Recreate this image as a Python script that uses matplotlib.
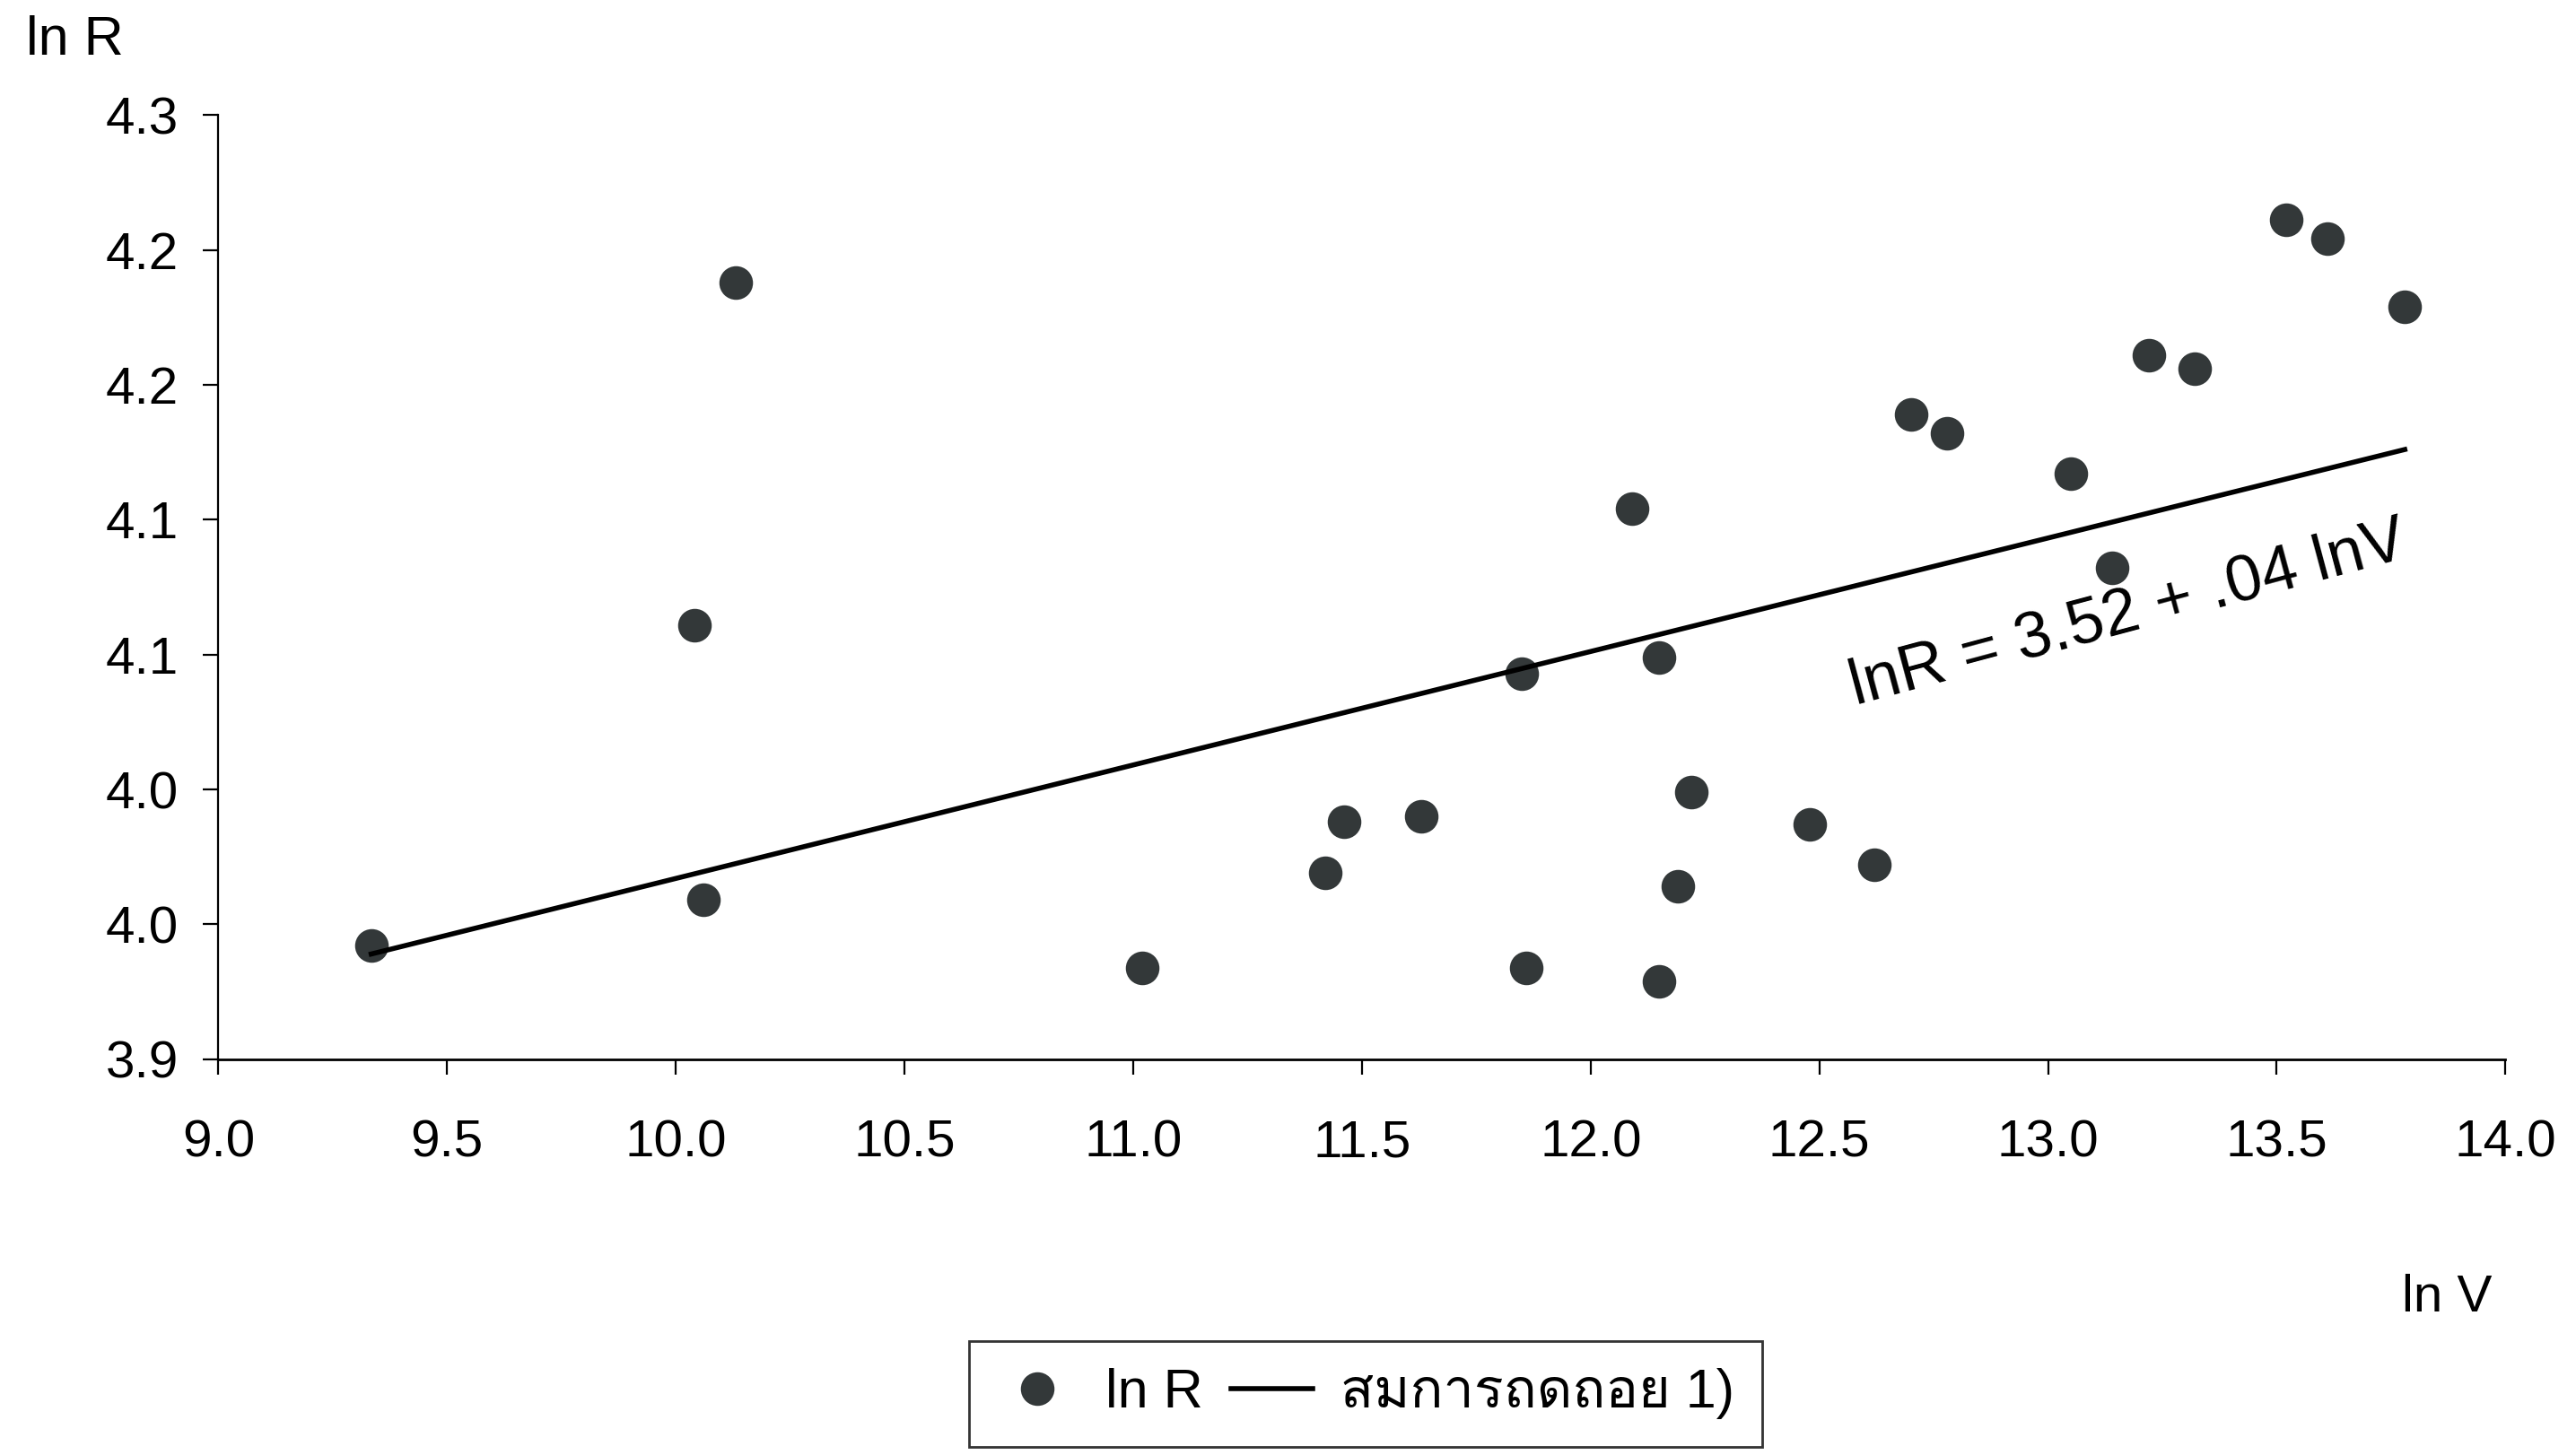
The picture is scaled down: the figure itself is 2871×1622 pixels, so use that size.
import numpy as np
import matplotlib
matplotlib.use('Agg')
from matplotlib import pyplot as plt
from matplotlib import font_manager
from matplotlib.ft2font import FT2Font

# ข้อมูลจากภาพ
lnV = [9.334, 10.13, 10.04, 10.06, 11.02, 11.42, 11.46, 11.63, 11.85, 11.86,
       12.09, 12.15, 12.22, 12.19, 12.15, 12.48, 12.62, 12.70, 12.78, 13.05,
       13.14, 13.22, 13.32, 13.52, 13.61, 13.78]
lnR = [3.942, 4.188, 4.061, 3.959, 3.934, 3.969, 3.988, 3.990, 4.043, 3.934,
       4.104, 4.049, 3.999, 3.964, 3.929, 3.987, 3.972, 4.139, 4.132, 4.117,
       4.082, 4.161, 4.156, 4.211, 4.204, 4.179]

# เส้นสมการถดถอย (ปลายเส้นอ่านจากภาพ)
fit_x = [9.334, 13.78]
fit_y = [3.939, 4.126]

x_ticks = [9.0, 9.5, 10.0, 10.5, 11.0, 11.5, 12.0, 12.5, 13.0, 13.5, 14.0]
y_ticks = [3.90, 3.95, 4.00, 4.05, 4.10, 4.15, 4.20, 4.25]
y_labels = ['3.9', '4.0', '4.0', '4.1', '4.1', '4.2', '4.2', '4.3']

# หาฟอนต์ที่มีอักษรไทย
thai_font = None
for f in font_manager.fontManager.ttflist:
    try:
        if FT2Font(f.fname).get_char_index(ord('ส')):
            thai_font = f.name
            break
    except Exception:
        pass

fam = ['Liberation Sans', 'DejaVu Sans']
if thai_font:
    fam = ['Liberation Sans', thai_font, 'DejaVu Sans']
plt.rcParams['font.family'] = fam

fig = plt.figure(figsize=(14.355, 8.11), dpi=200)
ax = fig.add_axes([0.0848, 0.272, 0.8878, 0.649])

ax.plot(lnV, lnR, linestyle='none', marker='o', markersize=12.5,
        color='#333839', label='ln R')
ax.plot(fit_x, fit_y, color='black', linewidth=2.0, label='สมการถดถอย 1)')

ax.set_xlim(9.0, 14.0)
ax.set_ylim(3.90, 4.25)
ax.set_xticks(x_ticks)
ax.set_xticklabels(['%.1f' % v for v in x_ticks])
ax.set_yticks(y_ticks)
ax.set_yticklabels(y_labels)
ax.tick_params(labelsize=21, length=6, width=0.8, direction='out', pad=10)
ax.tick_params(axis='x', pad=18)

ax.spines['top'].set_visible(False)
ax.spines['right'].set_visible(False)
ax.spines['left'].set_linewidth(0.8)
ax.spines['bottom'].set_linewidth(1.0)

fig.text(0.01, 0.972, 'ln R', fontsize=22, va='center', ha='left')
fig.text(0.95, 0.108, 'ln V', fontsize=21, va='center', ha='center')
fig.text(0.826, 0.578, 'lnR = 3.52 + .04 lnV', fontsize=26, rotation=15,
         ha='center', va='center', fontweight='medium')

leg = fig.legend(loc='center', bbox_to_anchor=(0.530, 0.042), ncol=2,
                 fontsize=22, frameon=True, fancybox=False, handlelength=1.5,
                 handletextpad=0.5, columnspacing=0.5, borderpad=0.5)
leg.get_frame().set_edgecolor('black')
leg.get_frame().set_linewidth(1.0)

fig.savefig('out.png', dpi=200)
